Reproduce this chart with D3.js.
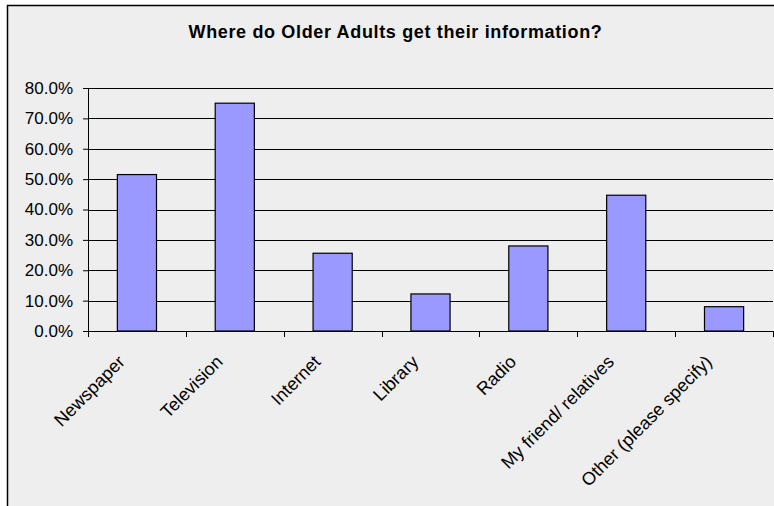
<!DOCTYPE html>
<html>
<head>
<meta charset="utf-8">
<script src="https://cdn.jsdelivr.net/npm/d3@7"></script>
<style>
  html, body { margin: 0; padding: 0; background: #ffffff; }
  svg { display: block; }
  text { font-family: "Liberation Sans", Arial, sans-serif; fill: #000; }
</style>
</head>
<body>
<svg id="chart" width="774" height="506"></svg>
<script>
// Survey answers: share of older adults naming each information source
const categories = [
  "Newspaper",
  "Television",
  "Internet",
  "Library",
  "Radio",
  "My friend/ relatives",
  "Other (please specify)"
];
const shares = [0.515, 0.750, 0.256, 0.122, 0.280, 0.447, 0.080];
const yTickValues = [0, 0.1, 0.2, 0.3, 0.4, 0.5, 0.6, 0.7, 0.8];
const chartTitle = "Where do Older Adults get their information?";

const svg = d3.select("#chart");

// Chart area: grey panel with a dark frame
svg.append("rect")
  .attr("x", 7.5).attr("y", 5.5)
  .attr("width", 790).attr("height", 520)
  .attr("fill", "#eeeeee")
  .attr("stroke", "#000")
  .attr("stroke-width", 1.5);

svg.append("text")
  .attr("x", 395.5).attr("y", 37.5)
  .attr("text-anchor", "middle")
  .style("font-weight", "bold")
  .style("font-size", "18px")
  .style("letter-spacing", "0.65px")
  .text(chartTitle);

const plot = { left: 88, right: 773, top: 88, bottom: 331 };

const x = d3.scaleBand()
  .domain(categories)
  .range([plot.left, plot.right])
  .paddingInner(0).paddingOuter(0);

const y = d3.scaleLinear()
  .domain([0, 0.8])
  .range([plot.bottom, plot.top]);

// Horizontal gridlines
svg.append("g")
  .selectAll("line")
  .data(yTickValues.filter(v => v > 0))
  .join("line")
  .attr("x1", plot.left).attr("x2", plot.right)
  .attr("y1", d => Math.round(y(d)) + 0.5)
  .attr("y2", d => Math.round(y(d)) + 0.5)
  .attr("stroke", "#000")
  .attr("stroke-width", 1);

// Bars, 40% of each category slot, centred in the slot
const barFrac = 0.4;
svg.append("g")
  .selectAll("rect")
  .data(categories.map((c, i) => ({ c, v: shares[i] })))
  .join("rect")
  .attr("x", d => x(d.c) + x.bandwidth() * (1 - barFrac) / 2)
  .attr("width", x.bandwidth() * barFrac)
  .attr("y", d => y(d.v))
  .attr("height", d => y(0) - y(d.v))
  .attr("fill", "#9999ff")
  .attr("stroke", "#000")
  .attr("stroke-width", 1.2);

// Value axis
const yAxis = svg.append("g")
  .attr("transform", `translate(${plot.left},0)`)
  .call(d3.axisLeft(y)
    .tickValues(yTickValues)
    .tickFormat(d3.format(".1%"))
    .tickSize(5)
    .tickPadding(10));
yAxis.select(".domain").attr("stroke", "#000");
yAxis.selectAll(".tick line").attr("stroke", "#000");
yAxis.selectAll("text")
  .style("font-size", "17px")
  .attr("fill", "#000");

// Category axis: ticks sit on the slot boundaries
const xAxisG = svg.append("g")
  .attr("transform", `translate(0,${plot.bottom})`);
xAxisG.append("line")
  .attr("x1", plot.left).attr("x2", plot.right)
  .attr("y1", 0.5).attr("y2", 0.5)
  .attr("stroke", "#000").attr("stroke-width", 1.2);
const boundaries = categories.map(c => x(c)).concat([plot.right]);
xAxisG.selectAll("line.tick")
  .data(boundaries)
  .join("line")
  .attr("class", "tick")
  .attr("x1", d => Math.round(d) + 0.5).attr("x2", d => Math.round(d) + 0.5)
  .attr("y1", 0).attr("y2", 6)
  .attr("stroke", "#000");

// Slanted category labels
xAxisG.selectAll("text")
  .data(categories)
  .join("text")
  .attr("text-anchor", "end")
  .attr("transform", d => `translate(${x(d) + x.bandwidth() / 2 - 11},32) rotate(-45)`)
  .style("font-size", "18px")
  .text(d => d);
</script>
</body>
</html>
